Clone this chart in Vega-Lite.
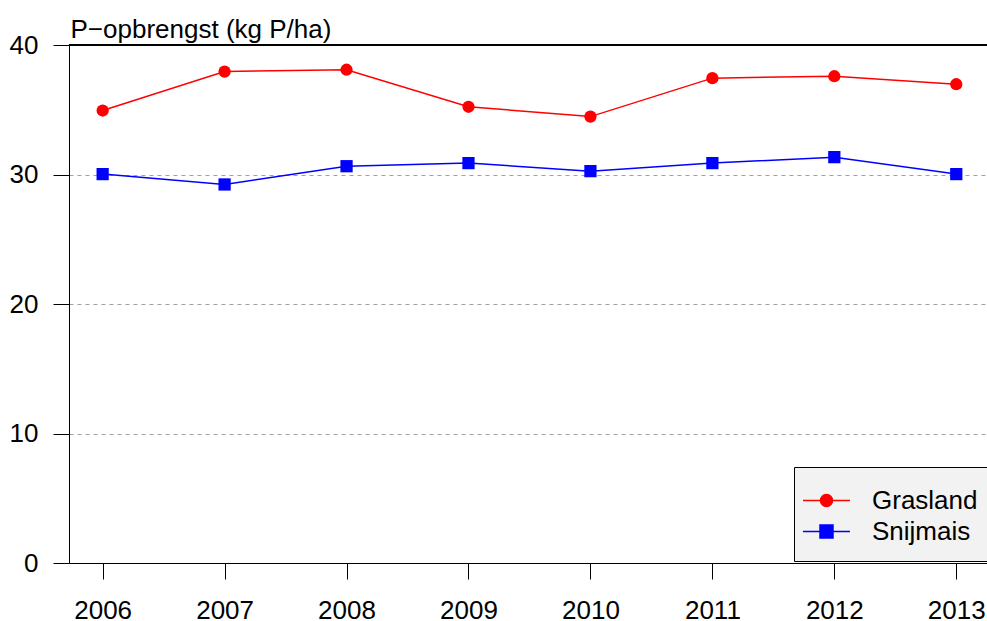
{
  "$schema": "https://vega.github.io/schema/vega-lite/v6.json",
  "autosize": {"type": "none"},
  "padding": {"left": 69, "top": 45, "right": 0, "bottom": 58},
  "width": 918,
  "height": 518,
  "background": "white",
  "config": {
    "view": {"stroke": null},
    "font": "Liberation Sans",
    "axis": {"labelFont": "Liberation Sans", "titleFont": "Liberation Sans", "labelColor": "black", "titleColor": "black", "domainColor": "black", "tickColor": "black", "labelFontSize": 26}
  },
  "data": {
    "values": [
      {"jaar": 2006, "serie": "Grasland", "waarde": 34.94},
      {"jaar": 2007, "serie": "Grasland", "waarde": 37.95},
      {"jaar": 2008, "serie": "Grasland", "waarde": 38.09},
      {"jaar": 2009, "serie": "Grasland", "waarde": 35.23},
      {"jaar": 2010, "serie": "Grasland", "waarde": 34.47},
      {"jaar": 2011, "serie": "Grasland", "waarde": 37.44},
      {"jaar": 2012, "serie": "Grasland", "waarde": 37.59},
      {"jaar": 2013, "serie": "Grasland", "waarde": 36.97},
      {"jaar": 2006, "serie": "Snijmais", "waarde": 30.03},
      {"jaar": 2007, "serie": "Snijmais", "waarde": 29.23},
      {"jaar": 2008, "serie": "Snijmais", "waarde": 30.64},
      {"jaar": 2009, "serie": "Snijmais", "waarde": 30.88},
      {"jaar": 2010, "serie": "Snijmais", "waarde": 30.26},
      {"jaar": 2011, "serie": "Snijmais", "waarde": 30.88},
      {"jaar": 2012, "serie": "Snijmais", "waarde": 31.34},
      {"jaar": 2013, "serie": "Snijmais", "waarde": 30.03}
    ]
  },
  "encoding": {
    "x": {
      "field": "jaar", "type": "quantitative",
      "scale": {"domain": [2005.724, 2013.252], "nice": false, "zero": false},
      "axis": {"values": [2006, 2007, 2008, 2009, 2010, 2011, 2012, 2013], "format": "d", "title": null, "grid": false, "tickSize": 16, "labelPadding": 18, "domainWidth": 1, "tickWidth": 1, "labelFlush": false}
    },
    "y": {
      "field": "waarde", "type": "quantitative",
      "scale": {"domain": [0, 40], "nice": false},
      "axis": {"values": [0, 10, 20, 30, 40], "title": "P−opbrengst (kg P/ha)", "titleAngle": 0, "titleX": 1, "titleY": -8, "titleAlign": "left", "titleBaseline": "alphabetic", "titleFontSize": 26, "titleFontWeight": "normal", "titlePadding": 0, "grid": true, "gridDash": [4, 4], "gridColor": "#a0a0a0", "gridWidth": 1, "tickSize": 16, "labelPadding": 15, "domainWidth": 1, "tickWidth": 1}
    },
    "color": {
      "field": "serie", "type": "nominal",
      "scale": {"domain": ["Grasland", "Snijmais"], "range": ["#ff0000", "#0000ff"]},
      "legend": {
        "title": null,
        "orient": "none",
        "legendX": 725,
        "legendY": 422,
        "fillColor": "#f2f2f2",
        "strokeColor": "black",
        "padding": 16,
        "labelFontSize": 26,
        "labelFont": "Liberation Sans",
        "labelColor": "black",
        "labelOffset": 28,
        "symbolSize": 1089,
        "symbolOffset": -1,
        "rowPadding": 0,
        "encode": {
          "symbols": {
            "update": {
              "shape": {"signal": "datum.value === 'Grasland' ? 'M-1.424,0L1.424,0M-0.364,0A0.364,0.364,0,1,0,0.364,0A0.364,0.364,0,1,0,-0.364,0Z' : 'M-1.424,0L1.424,0M-0.394,-0.394L0.394,-0.394L0.394,0.394L-0.394,0.394Z'"},
              "fill": {"scale": "color", "field": "value"},
              "stroke": {"scale": "color", "field": "value"},
              "strokeWidth": {"value": 1.5},
              "opacity": {"value": 1},
              "fillOpacity": {"value": 1},
              "strokeOpacity": {"value": 1}
            }
          }
        }
      }
    }
  },
  "layer": [
    {
      "mark": {"type": "rule", "color": "black", "strokeWidth": 1},
      "encoding": {"y": {"datum": 40}, "x": null, "color": {"value": "black"}}
    },
    {
      "mark": {"type": "line", "strokeWidth": 1.5},
      "encoding": {}
    },
    {
      "mark": {"type": "point", "filled": true, "opacity": 1, "size": 150},
      "encoding": {
        "shape": {"condition": {"test": "datum.serie === 'Grasland'", "value": "circle"}, "value": "square"}
      }
    }
  ]
}
